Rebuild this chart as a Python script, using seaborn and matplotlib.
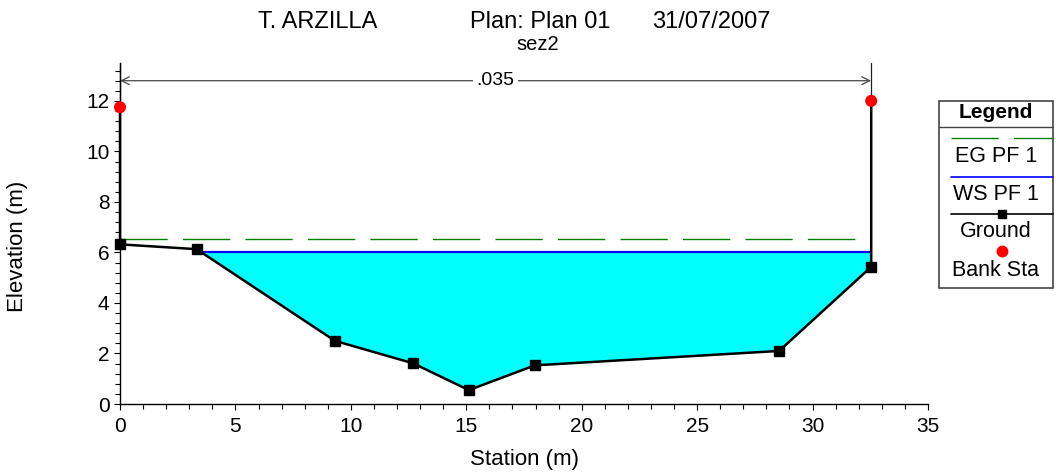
import numpy as np
import pandas as pd
import matplotlib
matplotlib.use("Agg")
import matplotlib.pyplot as plt
import seaborn as sns
from matplotlib.ticker import MultipleLocator
from matplotlib.lines import Line2D
from matplotlib.patches import Rectangle

# ---- data ----
ground_station = [0.0, 0.0, 3.32, 9.31, 12.70, 15.11, 17.97, 28.55, 32.54, 32.54]
ground_elev = [11.75, 6.32, 6.13, 2.50, 1.61, 0.55, 1.53, 2.10, 5.43, 12.0]
bank_station = [0.0, 32.54]
bank_elev = [11.75, 12.0]
ws_elev = 6.0
eg_elev = 6.55
n_value = ".035"
n_ranges = [0.0, 32.54]
x_ticks = [0, 5, 10, 15, 20, 25, 30, 35]
y_ticks = [0, 2, 4, 6, 8, 10, 12]

sns.set_theme(style="white")
plt.rcParams["font.family"] = ["Liberation Sans", "DejaVu Sans"]
plt.rcParams["text.color"] = "black"
plt.rcParams["axes.labelcolor"] = "black"
plt.rcParams["xtick.color"] = "black"
plt.rcParams["ytick.color"] = "black"

W, H = 1056, 475
fig = plt.figure(figsize=(W / 100, H / 100), dpi=100)
ax = fig.add_axes([120 / W, 1 - 404 / H, (928 - 120) / W, (404 - 63) / H])
ax.set_xlim(0, 35)
ax.set_ylim(0, 13.5)
YTOP = 13.5

gs = np.array(ground_station)
ge = np.array(ground_elev)
inner_x = gs[1:-1]
inner_y = ge[1:-1]

# water fill
ax.fill_between(inner_x, inner_y, ws_elev, where=inner_y <= ws_elev,
                interpolate=True, color="#00FFFF", linewidth=0, zorder=1)

# left intersection of water surface with ground
x_left = None
for i in range(len(inner_x) - 1):
    y0, y1 = inner_y[i], inner_y[i + 1]
    if y0 >= ws_elev > y1:
        t = (y0 - ws_elev) / (y0 - y1)
        x_left = inner_x[i] + t * (inner_x[i + 1] - inner_x[i])
        break
x_right = inner_x[-1]

# EG line
eg_line, = ax.plot([n_ranges[0], n_ranges[1]], [eg_elev, eg_elev], color="#008000",
                   lw=1.0, zorder=2, clip_on=False)
eg_line.set_dashes((34, 11))
# WS line
ax.plot([x_left, x_right], [ws_elev, ws_elev], color="#0000FF", lw=1.6, zorder=2)

# n-value boundary lines (from bank top up to top of plot)
for xv, yb in zip(n_ranges, bank_elev):
    ax.plot([xv, xv], [yb, YTOP], color="#222222", lw=0.9, zorder=1.5, clip_on=False)
ax.annotate("", xy=(n_ranges[0], 12.8), xytext=(n_ranges[1], 12.8),
            arrowprops=dict(arrowstyle="<->", color="#555555", lw=1.0,
                            shrinkA=0, shrinkB=0, mutation_scale=14), zorder=2)
ax.text((n_ranges[0] + n_ranges[1]) / 2, 12.8, n_value, ha="center", va="center",
        fontsize=14, color="black",
        bbox=dict(facecolor="white", edgecolor="none", pad=2.5), zorder=3)

# ground
df = pd.DataFrame({"Station": ground_station, "Elevation": ground_elev})
sns.lineplot(data=df, x="Station", y="Elevation", sort=False, estimator=None,
             color="black", lw=1.8, ax=ax, zorder=4, clip_on=False)
ax.plot(inner_x, inner_y, ls="none", marker="s", ms=7, color="black", zorder=5,
        clip_on=False)
bdf = pd.DataFrame({"Station": bank_station, "Elevation": bank_elev})
sns.scatterplot(data=bdf, x="Station", y="Elevation", color="#FF0000", s=75,
                edgecolor="none", ax=ax, zorder=6, clip_on=False)

# axes styling
for s in ["top", "right"]:
    ax.spines[s].set_visible(False)
for s in ["left", "bottom"]:
    ax.spines[s].set_color("black")
    ax.spines[s].set_linewidth(1.0)
    ax.spines[s].set_zorder(3)
ax.set_xticks(x_ticks)
ax.set_yticks(y_ticks)
ax.xaxis.set_minor_locator(MultipleLocator(1))
ax.yaxis.set_minor_locator(MultipleLocator(0.4))
ax.tick_params(axis="both", which="major", direction="out", length=4.5, width=0.8,
               color="black", labelsize=15, labelcolor="black", bottom=True, left=True)
ax.tick_params(axis="both", which="minor", direction="out", length=3.5, width=0.8,
               color="black", bottom=True, left=True)
ax.tick_params(axis="x", pad=5)
ax.tick_params(axis="y", pad=3)
ax.set_xlabel("")
ax.set_ylabel("")
ax.set_facecolor("white")

# titles and labels
fig.text(258 / W, 1 - 22 / H, "T. ARZILLA", fontsize=17, ha="left", va="center")
fig.text(470 / W, 1 - 22 / H, "Plan: Plan 01", fontsize=17, ha="left", va="center")
fig.text(652 / W, 1 - 22 / H, "31/07/2007", fontsize=17, ha="left", va="center")
fig.text(538 / W, 1 - 45 / H, "sez2", fontsize=14.5, ha="center", va="center")
fig.text(524 / W, 1 - 460 / H, "Station (m)", fontsize=16, ha="center", va="center")
fig.text(18 / W, 1 - 246 / H, "Elevation (m)", fontsize=16, ha="center", va="center",
         rotation=90)

# legend (custom layout)
def fx(px):
    return px / W

def fy(py):
    return 1 - py / H

LFS = 15.5
fig.patches.append(Rectangle((fx(939), fy(288)), fx(1053) - fx(939), fy(101) - fy(288),
                             transform=fig.transFigure, facecolor="white",
                             edgecolor="#444444", lw=1.2, zorder=5))
fig.lines.append(Line2D([fx(939), fx(1053)], [fy(127), fy(127)], transform=fig.transFigure,
                        color="#444444", lw=1.0, zorder=6))
fig.text(fx(996), fy(113), "Legend", fontsize=15, fontweight="bold", ha="center",
         va="center", zorder=7)
l1 = Line2D([fx(951), fx(1053)], [fy(138), fy(138)], transform=fig.transFigure,
            color="#008000", lw=1.0, zorder=6)
l1.set_dashes((34, 11))
fig.lines.append(l1)
fig.text(fx(996), fy(157), "EG PF 1", fontsize=LFS, ha="center", va="center", zorder=7)
fig.lines.append(Line2D([fx(951), fx(1053)], [fy(177), fy(177)], transform=fig.transFigure,
                        color="#0000FF", lw=1.2, zorder=6))
fig.text(fx(996), fy(194), "WS PF 1", fontsize=LFS, ha="center", va="center", zorder=7)
fig.lines.append(Line2D([fx(951), fx(1053)], [fy(214), fy(214)], transform=fig.transFigure,
                        color="black", lw=1.2, zorder=6))
fig.lines.append(Line2D([fx(1002)], [fy(214)], transform=fig.transFigure, ls="none",
                        marker="s", ms=6, color="black", zorder=7))
fig.text(fx(996), fy(231), "Ground", fontsize=LFS, ha="center", va="center", zorder=7)
fig.lines.append(Line2D([fx(1002)], [fy(251)], transform=fig.transFigure, ls="none",
                        marker="o", ms=7.5, color="#FF0000", zorder=7))
fig.text(fx(996), fy(270), "Bank Sta", fontsize=LFS, ha="center", va="center", zorder=7)

fig.savefig("out.png", dpi=100, facecolor="white")
